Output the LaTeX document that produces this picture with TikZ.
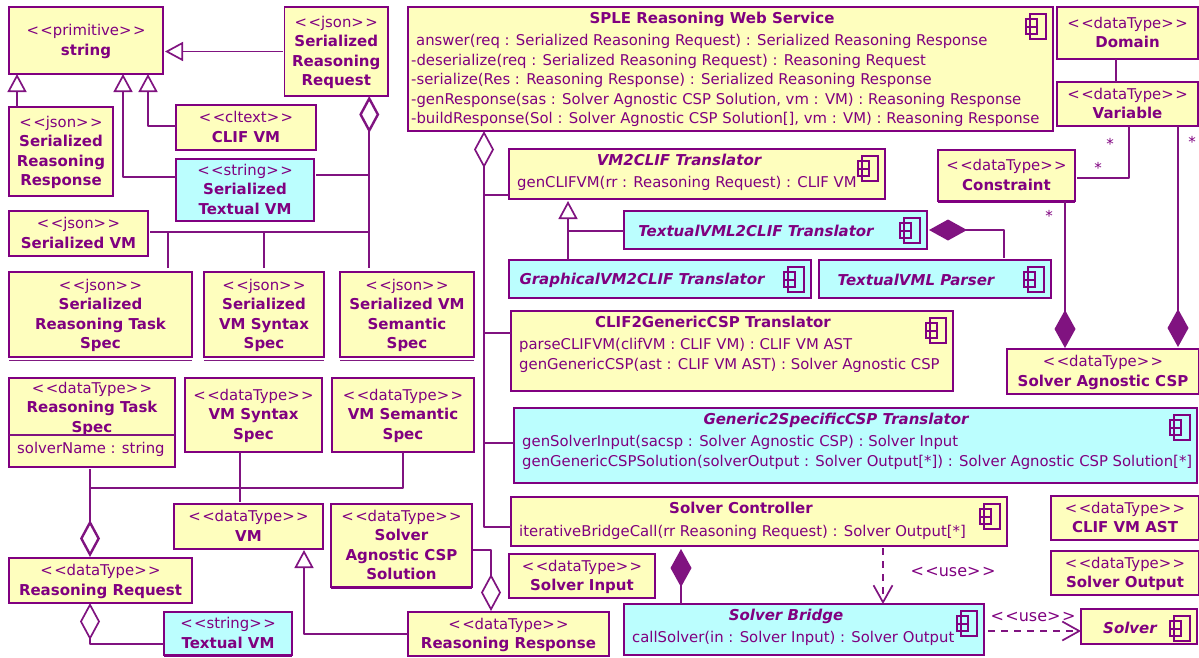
\documentclass[tikz,border=0pt]{standalone}
\usepackage{fontspec}
\setmainfont{DejaVu Sans}
\usetikzlibrary{arrows.meta,shadows}
\definecolor{umlpurple}{HTML}{800080}
\definecolor{umlyellow}{HTML}{FEFEBE}
\definecolor{umlcyan}{HTML}{BBFEFE}
\newcommand{\guil}[1]{<\kern1.5pt<#1>\kern1.5pt>}
\newcommand{\stereo}[1]{\rule{0pt}{13.5pt}{\mdseries\fontsize{14.85}{19.5}\selectfont \guil{#1}}}
\newcommand{\compicon}[1]{%
  \begin{scope}[shift={(#1.north east)}]
    \draw[iconline] (-23,7) rectangle (-7,32);
    \draw[iconline] (-27,12) rectangle (-16,20);
    \draw[iconline] (-27,20) rectangle (-16,27);
  \end{scope}}
\tikzset{
  umlbox/.style={draw=umlpurple, fill=umlyellow, line width=1.5pt, inner sep=0pt, outer sep=0pt, align=center,
    text=umlpurple, font=\bfseries\fontsize{15}{19.5}\selectfont,
    execute at end node={\rule[-4pt]{0pt}{0pt}},
    drop shadow={shadow xshift=1.2pt, shadow yshift=-1.2pt, opacity=0.25}},
  cyanbox/.style={umlbox, fill=umlcyan},
  boxsize/.style 2 args={minimum width=#1pt, minimum height=#2pt},
  titletext/.style={text=umlpurple, inner sep=0pt, font=\bfseries\fontsize{15}{19.5}\selectfont},
  ititletext/.style={titletext, font=\bfseries\itshape\fontsize{15}{19.5}\selectfont},
  membertext/.style={text=umlpurple, inner sep=0pt, anchor=north west, align=left, font=\fontsize{14.85}{19.5}\selectfont},
  umlline/.style={draw=umlpurple!85!gray, line width=1.7pt, line join=round},
  iconline/.style={draw=umlpurple, line width=1.2pt},
  footline/.style={draw=umlpurple, line width=3pt},
  doublefoot/.style={draw=umlpurple!80!gray, line width=1pt},
  startext/.style={text=umlpurple, inner sep=0pt, font=\fontsize{15}{19.5}\selectfont},
  uselabel/.style={text=umlpurple, inner sep=0pt, font=\fontsize{16}{19.5}\selectfont},
  gentri/.style={umlline, -{Triangle[open,fill=white,length=18pt,width=19pt]}},
  odiamond/.style={umlline, {Diamond[open,fill=white,length=37pt,width=20pt]}-},
  boldodiamond/.style={umlline, {Diamond[open,fill=white,length=37pt,width=20pt,line width=2.4pt]}-},
  fdiamond/.style={umlline, {Diamond[length=38pt,width=21pt]}-},
  usearrow/.style={umlline, dash pattern=on 7pt off 6pt, -{Straight Barb[length=17pt,width=19pt]}}
}
\begin{document}
\begin{tikzpicture}[x=1pt,y=-1pt]
\useasboundingbox[fill=white] (0,0) rectangle (1199,657);

\node[umlbox, boxsize={154}{67}] (string) at (86,40.5) {\stereo{primitive}\\string};
\node[umlbox, boxsize={103.5}{89}] (req) at (336.25,51.5) {\stereo{json}\\Serialized\\Reasoning\\Request};
\node[umlbox, boxsize={104}{89}] (resp) at (61,151.5) {\stereo{json}\\Serialized\\Reasoning\\Response};
\node[umlbox, boxsize={140}{45}] (clifvm) at (246,127.5) {\stereo{cltext}\\CLIF VM};
\node[cyanbox, boxsize={138}{62}] (sertext) at (245,190) {\stereo{string}\\Serialized\\Textual VM};
\node[umlbox, boxsize={139}{45}] (servm) at (78.5,233.5) {\stereo{json}\\Serialized VM};
\node[umlbox, boxsize={183}{85}] (taskjson) at (100.5,314.5) {\stereo{json}\\Serialized\\Reasoning Task\\Spec};
\node[umlbox, boxsize={120}{85}] (syntaxjson) at (264,314.5) {\stereo{json}\\Serialized\\VM Syntax\\Spec};
\node[umlbox, boxsize={134}{85}] (semanticjson) at (407,314.5) {\stereo{json}\\Serialized VM\\Semantic\\Spec};

\node[umlbox, boxsize={166}{89}, text depth=33pt] (task) at (92,422.5) {\stereo{dataType}\\Reasoning Task\\Spec};
\node[membertext, anchor=west] (tasksolver) at (17,449) {solverName : string};
\node[umlbox, boxsize={137}{74}] (syntax) at (253.5,415) {\stereo{dataType}\\VM Syntax\\Spec};
\node[umlbox, boxsize={142}{74}] (semantic) at (403,415) {\stereo{dataType}\\VM Semantic\\Spec};
\node[umlbox, boxsize={149}{45}] (vm) at (248.5,526.5) {\stereo{dataType}\\VM};
\node[umlbox, boxsize={141}{83}] (solution) at (401.5,545.5) {\stereo{dataType}\\Solver\\Agnostic CSP\\Solution};
\node[umlbox, boxsize={183}{45}] (reasonreq) at (100.5,580.5) {\stereo{dataType}\\Reasoning Request};
\node[cyanbox, boxsize={128}{43}] (textvm) at (228,633.5) {\stereo{string}\\Textual VM};
\node[umlbox, boxsize={146}{44}] (input) at (582,576) {\stereo{dataType}\\Solver Input};
\node[umlbox, boxsize={201}{44}] (reasonresp) at (508.5,634) {\stereo{dataType}\\Reasoning Response};

\node[umlbox, boxsize={141}{52}] (domain) at (1127.5,33) {\stereo{dataType}\\Domain};
\node[umlbox, boxsize={141}{44}] (variable) at (1127.5,104) {\stereo{dataType}\\Variable};
\node[umlbox, boxsize={137}{51}] (constraint) at (1006.5,175.5) {\stereo{dataType}\\Constraint};
\node[umlbox, boxsize={192}{45}] (csp) at (1103,371.5) {\stereo{dataType}\\Solver Agnostic CSP};
\node[umlbox, boxsize={148}{44}] (ast) at (1125,518) {\stereo{dataType}\\CLIF VM AST};
\node[umlbox, boxsize={148}{44}] (output) at (1125,573) {\stereo{dataType}\\Solver Output};

\node[umlbox, boxsize={645}{124}] (sple) at (730.5,69) {};
\node[titletext] (spletitle) at (712,19.5) {SPLE Reasoning Web Service};
\node[membertext] (splemembers) at (411,34.5) {\hspace{5pt}answer(req : Serialized Reasoning Request) : Serialized Reasoning Response\\
-deserialize(req : Serialized Reasoning Request) : Reasoning Request\\
-serialize(Res : Reasoning Response) : Serialized Reasoning Response\\
-genResponse(sas : Solver Agnostic CSP Solution, vm : VM) : Reasoning Response\\
-buildResponse(Sol : Solver Agnostic CSP Solution[], vm : VM) : Reasoning Response};
\node[umlbox, boxsize={376}{50}] (vmclif) at (697,174) {};
\node[ititletext] (vmcliftitle) at (679,160) {VM2CLIF Translator};
\node[membertext] (vmclifmembers) at (517,176.5) {genCLIFVM(rr : Reasoning Request) : CLIF VM};
\node[cyanbox, boxsize={303}{38}] (textual) at (775.5,230) {};
\node[ititletext] (textualtitle) at (756,231) {TextualVML2CLIF Translator};
\node[cyanbox, boxsize={302}{38}] (graphical) at (660,279) {};
\node[ititletext] (graphicaltitle) at (642,280) {GraphicalVM2CLIF Translator};
\node[cyanbox, boxsize={232}{38}] (parser) at (935,279) {};
\node[ititletext] (parsertitle) at (916,280) {TextualVML Parser};
\node[umlbox, boxsize={442}{80}] (clifgen) at (732,351) {};
\node[titletext] (clifgentitle) at (713,322) {CLIF2GenericCSP Translator};
\node[membertext] (clifgenmembers) at (519,338.5) {parseCLIFVM(clifVM : CLIF VM) : CLIF VM AST\\
genGenericCSP(ast : CLIF VM AST) : Solver Agnostic CSP};
\node[cyanbox, boxsize={683}{75}] (generic) at (855.5,445.5) {};
\node[ititletext] (generictitle) at (836,420) {Generic2SpecificCSP Translator};
\node[membertext] (genericmembers) at (522,435.5) {genSolverInput(sacsp : Solver Agnostic CSP) : Solver Input\\
genGenericCSPSolution(solverOutput : Solver Output[*]) : Solver Agnostic CSP Solution[*]};
\node[umlbox, boxsize={496}{49}] (controller) at (759,521.5) {};
\node[titletext] (controllertitle) at (741,508) {Solver Controller};
\node[membertext] (controllermembers) at (519,525.5) {iterativeBridgeCall(rr Reasoning Request) : Solver Output[*]};
\node[cyanbox, boxsize={360}{51}] (bridge) at (804,629.5) {};
\node[ititletext] (bridgetitle) at (786,616) {Solver Bridge};
\node[membertext] (bridgemembers) at (632,631.5) {callSolver(in : Solver Input) : Solver Output};
\node[umlbox, boxsize={116}{35}] (solver) at (1139,626.5) {};
\node[ititletext] (solvertitle) at (1130,628) {Solver};

\compicon{sple}
\compicon{vmclif}
\compicon{textual}
\compicon{graphical}
\compicon{parser}
\compicon{clifgen}
\compicon{generic}
\compicon{controller}
\compicon{bridge}
\compicon{solver}

\draw[footline] (constraint.south west) -- (constraint.south east);
\draw[footline] (solution.south west) -- (solution.south east);
\draw[footline] (textvm.south west) -- (textvm.south east);
\draw[doublefoot] ([yshift=-3pt]taskjson.south west) -- ([yshift=-3pt]taskjson.south east);
\draw[doublefoot] ([yshift=-3pt]syntaxjson.south west) -- ([yshift=-3pt]syntaxjson.south east);
\draw[doublefoot] ([yshift=-3pt]semanticjson.south west) -- ([yshift=-3pt]semanticjson.south east);
\draw[umlline] ([yshift=-12.5pt]task.west) -- ([yshift=-12.5pt]task.east);

\draw[gentri, shorten <=2pt, shorten >=2pt] (req.west) -- (string.east |- req.west);
\draw[gentri] ([xshift=8pt]resp.north west) -- ([xshift=8pt]string.south west);
\draw[gentri] ([yshift=1.5pt]clifvm.west) -| ([xshift=62pt]string.south);
\draw[gentri] ([yshift=13pt]sertext.west) -| ([xshift=37pt]string.south);

\coordinate (reqbus) at ([xshift=33pt]req.south);
\coordinate (sertextport) at ([yshift=15pt]sertext.east);
\coordinate (servmport) at ([yshift=1.5pt]servm.east);
\coordinate (taskjsonport) at ([xshift=67.5pt]taskjson.north);
\draw[boldodiamond, shorten >=4pt] (reqbus) -- (reqbus |- semanticjson.north);
\draw[umlline, shorten <=2pt] (sertextport) -- (reqbus |- sertextport);
\draw[umlline, shorten <=2pt] (servmport) -- (reqbus |- servmport);
\draw[umlline, shorten <=4pt] (taskjsonport) -- (taskjsonport |- servmport);
\draw[umlline, shorten <=4pt] (syntaxjson.north) -- (syntaxjson.north |- servmport);

\coordinate (splebus) at ([xshift=76pt]sple.south west);
\coordinate (vmclifport) at ([yshift=-21pt]vmclif.west);
\coordinate (clifgenport) at ([yshift=18pt]clifgen.west);
\coordinate (genericport) at ([yshift=2.5pt]generic.west);
\draw[odiamond] (splebus) |- ([yshift=-5.5pt]controller.west);
\draw[umlline] (vmclifport) -- (splebus |- vmclifport);
\draw[umlline] (clifgenport) -- (splebus |- clifgenport);
\draw[umlline] (genericport) -- (splebus |- genericport);

\coordinate (vmclifbus) at ([xshift=-92pt]graphical.north);
\coordinate (textualport) at ([yshift=-1pt]textual.west);
\draw[gentri, shorten >=2pt] (vmclifbus) -- (vmclifbus |- vmclif.south);
\draw[umlline] (textualport) -- (vmclifbus |- textualport);
\draw[fdiamond, shorten <=2pt, shorten >=2pt] (textual.east) -| ([xshift=69pt]parser.north);

\draw[umlline] ([xshift=-11.5pt]domain.south) -- ([xshift=-11.5pt]variable.north);
\draw[umlline, shorten >=2pt] ([xshift=1.5pt]variable.south) |- ([yshift=-2.5pt]constraint.east);
\draw[fdiamond, shorten <=2pt] ([xshift=75pt]csp.north) -- ([xshift=75pt]csp.north |- variable.south);
\draw[fdiamond, shorten <=1pt] ([xshift=-38pt]csp.north) -- ([xshift=-38pt]csp.north |- constraint.south);
\node[startext] (starvara) at (1110,144) {*};
\node[startext] (starcona) at (1098,168) {*};
\node[startext] (starvarb) at (1192,142) {*};
\node[startext] (starconb) at (1049,216) {*};

\coordinate (reqfoot) at ([xshift=-10.5pt]reasonreq.north);
\draw[boldodiamond, shorten <=1pt, shorten >=2pt] (reqfoot) -- (reqfoot |- task.south);
\draw[umlline] (semantic.south) |- ([xshift=-2pt,yshift=-21pt]task.south);
\draw[umlline, shorten >=2pt] ([xshift=-13.5pt]syntax.south) -- ([xshift=-13.5pt]syntax.south |- vm.north);
\draw[odiamond] ([xshift=-10.5pt]reasonreq.south) |- ([yshift=-10.5pt]textvm.west);
\draw[gentri, shorten >=1pt] (reasonresp.west) -| ([xshift=55.5pt]vm.south);
\draw[odiamond, shorten <=1pt, shorten >=1pt] ([xshift=-17.5pt]reasonresp.north) |- ([yshift=-4.5pt]solution.east);

\coordinate (bridgeport) at ([yshift=-1.5pt]bridge.east);
\draw[fdiamond, shorten <=3pt] ([xshift=-78pt]controller.south) -- ([xshift=-123pt]bridge.north);
\draw[usearrow, shorten <=2pt] ([xshift=124pt]controller.south) -- ([xshift=124pt]controller.south |- bridge.north);
\draw[usearrow, shorten <=4pt] (bridgeport) -- (solver.west |- bridgeport);
\node[uselabel] (uselabela) at (953,572) {\guil{use}};
\node[uselabel] (uselabelb) at (1033,617) {\guil{use}};
\end{tikzpicture}
\end{document}
